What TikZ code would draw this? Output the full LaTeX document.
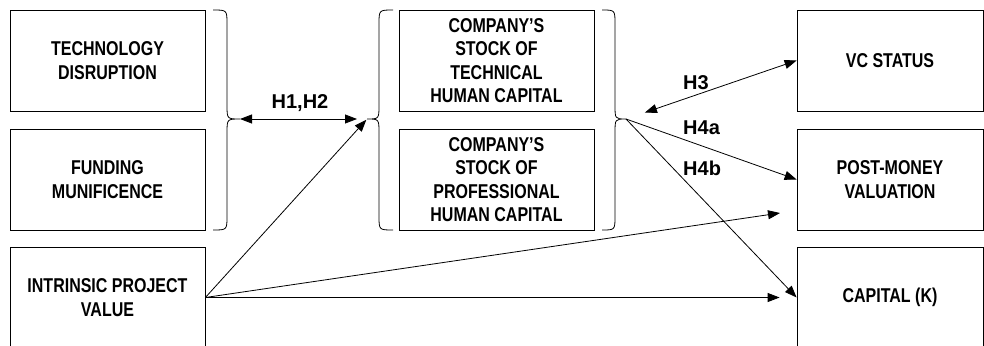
\documentclass[tikz,border=0pt]{standalone}
\usepackage{fontspec}
\setmainfont{Liberation Sans}
\newfontfamily\narrowfont{Liberation Sans}[FakeStretch=0.8]
\usetikzlibrary{arrows.meta}

\tikzset{
  box/.style={draw, line width=0.8pt, inner sep=0pt, align=center,
    minimum width=195pt, minimum height=101pt,
    font=\narrowfont\fontsize{20}{23.5}\selectfont\bfseries},
  hyp/.style={font=\fontsize{20}{23}\selectfont\bfseries, inner sep=0pt},
  arr/.style={line width=0.8pt, -{Triangle[length=12pt,width=9pt]}},
  dblarr/.style={line width=0.8pt,
    {Triangle[length=12pt,width=9pt]}-{Triangle[length=12pt,width=9pt]}},
  brc/.style={line width=0.8pt}
}

\begin{document}
\begin{tikzpicture}[x=1pt,y=-1pt]
  \useasboundingbox (0,0) rectangle (984,345);
  \clip (0,0) rectangle (984,345);

  % Linke Spalte
  \node[box] (tech) at (107.5,60.5)  {TECHNOLOGY\\DISRUPTION};
  \node[box] (fund) at (107.5,179.5) {FUNDING\\MUNIFICENCE};
  \node[box] (ipv)  at (107.5,297.5) {INTRINSIC PROJECT\\VALUE};

  % Mittlere Spalte
  \node[box] (tech hc) at (496.5,60.5)
    {COMPANY’S\\STOCK OF\\TECHNICAL\\HUMAN CAPITAL};
  \node[box] (prof hc) at (496.5,179.5)
    {COMPANY’S\\STOCK OF\\PROFESSIONAL\\HUMAN CAPITAL};

  % Rechte Spalte
  \node[box, minimum width=186pt] (vcs) at (890,60.5)  {VC STATUS};
  \node[box, minimum width=186pt] (pmv) at (890,179.5) {POST-MONEY\\VALUATION};
  \node[box, minimum width=186pt] (cap) at (890,297.5) {CAPITAL (K)};

  % Klammern
  \draw[brc] (213,10) .. controls (227,10) .. (227,24) -- (227,105)
    .. controls (227,119) .. (240,119) .. controls (227,119) .. (227,133)
    -- (227,216) .. controls (227,230) .. (213,230);
  \draw[brc] (393,10) .. controls (379,10) .. (379,24) -- (379,105)
    .. controls (379,119) .. (367,119) .. controls (379,119) .. (379,133)
    -- (379,216) .. controls (379,230) .. (393,230);
  \draw[brc] (602,10) .. controls (615,10) .. (615,24) -- (615,105)
    .. controls (615,119) .. (626,119) .. controls (615,119) .. (615,133)
    -- (615,216) .. controls (615,230) .. (602,230);
  \coordinate (lb) at (240,119);
  \coordinate (mb) at (367,119);
  \coordinate (rb) at (626,119);
  \coordinate (pmv in) at (780,213);

  % Hypothesen
  \draw[dblarr, shorten >=10pt] (lb) -- (mb);
  \draw[dblarr, shorten <=20pt] (rb) -- (vcs.west);
  \draw[arr] (rb) -- (pmv.west);
  \draw[arr] (rb) -- (cap.west);

  % Direkte Effekte
  \draw[arr, shorten >=1pt] (ipv.east) -- (mb);
  \draw[arr] (ipv.east) -- (pmv in);
  \draw[arr, shorten >=17pt] (ipv.east) -- (cap.west);

  % Beschriftung
  \node[hyp] (h12) at (300,103) {H1,H2};
  \node[hyp, anchor=west] (h3)  at (683,83)  {H3};
  \node[hyp, anchor=west] (h4a) at (683,128) {H4a};
  \node[hyp, anchor=west] (h4b) at (683,168) {H4b};

\end{tikzpicture}
\end{document}
